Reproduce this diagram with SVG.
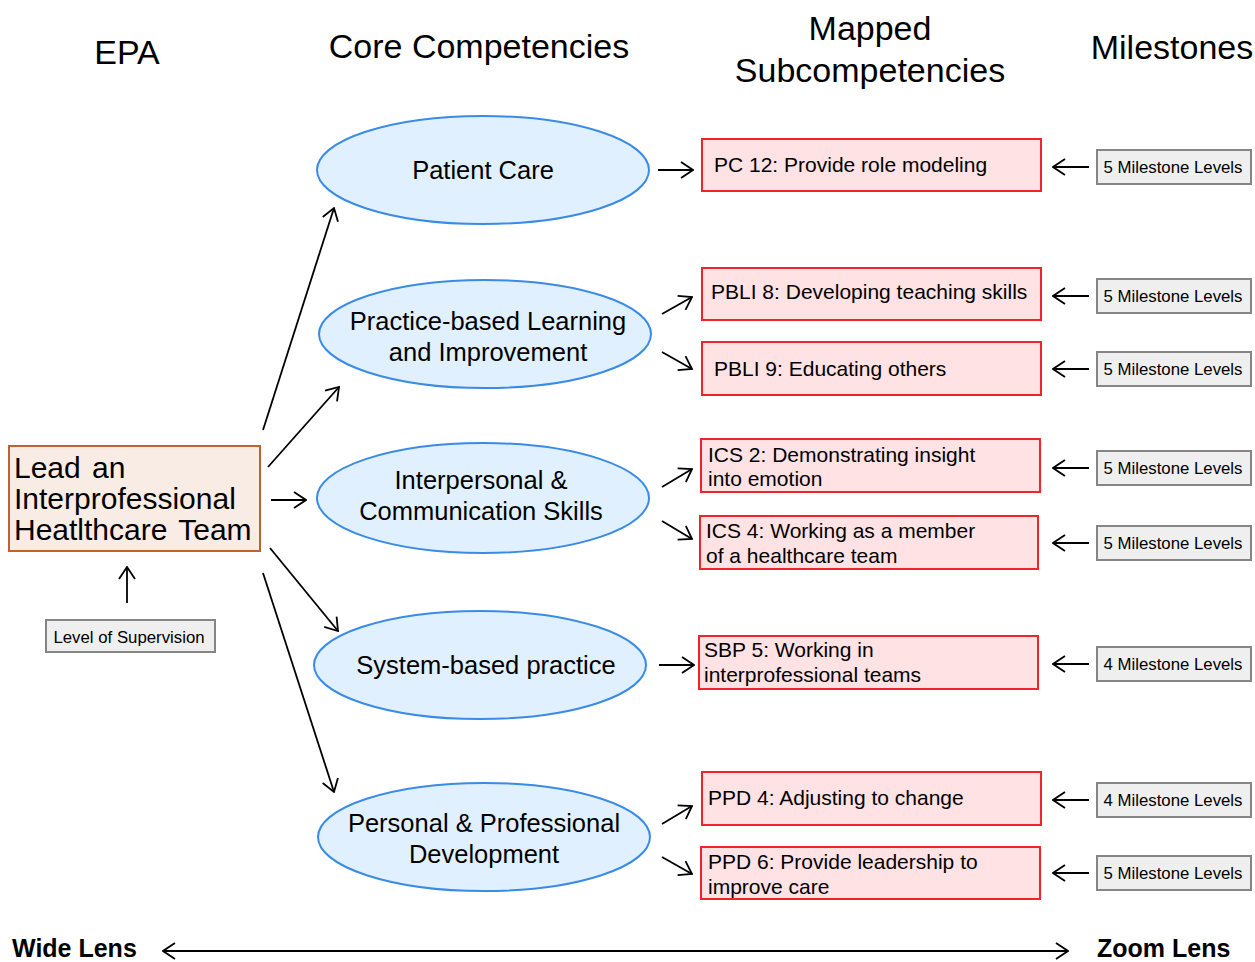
<svg xmlns="http://www.w3.org/2000/svg" width="1255" height="962" viewBox="0 0 1255 962">
<defs>
<marker id="ah" viewBox="0 0 14 18" refX="13" refY="9" markerWidth="14" markerHeight="18" markerUnits="userSpaceOnUse" orient="auto-start-reverse">
<path d="M1,1 L13,9 L1,17" fill="none" stroke="#000" stroke-width="1.8"/>
</marker>
</defs>
<style>
text{font-family:"Liberation Sans",Arial,sans-serif;fill:#000}
.hd{font-size:34px;text-anchor:middle}
.ell{fill:#e1f0fe;stroke:#3a8be6;stroke-width:2}
.et{font-size:25.5px;text-anchor:middle}
.red{fill:#fee2e4;stroke:#f0242a;stroke-width:2}
.rt{font-size:21px}
.gray{fill:#efefef;stroke:#858585;stroke-width:2}
.gt{font-size:16.8px;text-anchor:middle}
.con line{stroke:#000;stroke-width:1.8;marker-end:url(#ah)}
.lens{font-size:25px;font-weight:bold}
.epa{font-size:30px;word-spacing:3px}
</style>
<rect width="1255" height="962" fill="#fff"/>
<g id="headers">
<text class="hd" x="127" y="64">EPA</text>
<text class="hd" x="479" y="58">Core Competencies</text>
<text class="hd" x="870" y="40">Mapped</text>
<text class="hd" x="870" y="82">Subcompetencies</text>
<text class="hd" x="1172" y="59">Milestones</text>
</g>
<g id="epa">
<rect x="9" y="446" width="251" height="105" fill="#f8ece4" stroke="#c0622b" stroke-width="2"/>
<text class="epa" x="14" y="478">Lead an</text>
<text class="epa" x="14" y="509">Interprofessional</text>
<text class="epa" x="14" y="540">Heatlthcare Team</text>
</g>
<g id="supervision">
<rect class="gray" x="46" y="620" width="169" height="32"/>
<text class="gt" x="129" y="643">Level of Supervision</text>
</g>
<g id="pc"><ellipse class="ell" cx="483" cy="170" rx="166" ry="54"/><text class="et" x="483" y="179">Patient Care</text></g>
<g id="pbli"><ellipse class="ell" cx="485" cy="334" rx="166" ry="54"/><text class="et" x="488" y="330">Practice-based Learning</text><text class="et" x="488" y="361">and Improvement</text></g>
<g id="ics"><ellipse class="ell" cx="483" cy="498" rx="166" ry="55"/><text class="et" x="481" y="489">Interpersonal &amp;</text><text class="et" x="481" y="520">Communication Skills</text></g>
<g id="sbp"><ellipse class="ell" cx="480" cy="665" rx="166" ry="54"/><text class="et" x="486" y="674">System-based practice</text></g>
<g id="ppd"><ellipse class="ell" cx="484" cy="837" rx="166" ry="54"/><text class="et" x="484" y="832">Personal &amp; Professional</text><text class="et" x="484" y="863">Development</text></g>

<g id="pc12"><rect class="red" x="702" y="139" width="339" height="52"/><text class="rt" x="714" y="172">PC 12: Provide role modeling</text></g>
<g id="pbli8"><rect class="red" x="702" y="268" width="339" height="52"/><text class="rt" x="711" y="299">PBLI 8: Developing teaching skills</text></g>
<g id="pbli9"><rect class="red" x="702" y="342" width="339" height="53"/><text class="rt" x="714" y="376">PBLI 9: Educating others</text></g>
<g id="ics2"><rect class="red" x="701" y="439" width="339" height="53"/><text class="rt" x="708" y="462">ICS 2: Demonstrating insight</text><text class="rt" x="708" y="486">into emotion</text></g>
<g id="ics4"><rect class="red" x="700" y="516" width="338" height="53"/><text class="rt" x="706" y="538">ICS 4: Working as a member</text><text class="rt" x="706" y="563">of a healthcare team</text></g>
<g id="sbp5"><rect class="red" x="699" y="636" width="339" height="53"/><text class="rt" x="704" y="657">SBP 5: Working in</text><text class="rt" x="704" y="682">interprofessional  teams</text></g>
<g id="ppd4"><rect class="red" x="702" y="772" width="339" height="53"/><text class="rt" x="708" y="805">PPD 4: Adjusting to change</text></g>
<g id="ppd6"><rect class="red" x="701" y="847" width="339" height="52"/><text class="rt" x="708" y="869">PPD 6: Provide leadership to</text><text class="rt" x="708" y="894">improve care</text></g>

<g id="m1"><rect class="gray" x="1097" y="150" width="154" height="34"/><text class="gt" x="1173" y="173">5 Milestone Levels</text></g>
<g id="m2"><rect class="gray" x="1097" y="279" width="154" height="34"/><text class="gt" x="1173" y="302">5 Milestone Levels</text></g>
<g id="m3"><rect class="gray" x="1097" y="352" width="154" height="34"/><text class="gt" x="1173" y="375">5 Milestone Levels</text></g>
<g id="m4"><rect class="gray" x="1097" y="451" width="154" height="34"/><text class="gt" x="1173" y="474">5 Milestone Levels</text></g>
<g id="m5"><rect class="gray" x="1097" y="526" width="154" height="34"/><text class="gt" x="1173" y="549">5 Milestone Levels</text></g>
<g id="m6"><rect class="gray" x="1097" y="647" width="154" height="34"/><text class="gt" x="1173" y="670">4 Milestone Levels</text></g>
<g id="m7"><rect class="gray" x="1097" y="783" width="154" height="34"/><text class="gt" x="1173" y="806">4 Milestone Levels</text></g>
<g id="m8"><rect class="gray" x="1097" y="856" width="154" height="34"/><text class="gt" x="1173" y="879">5 Milestone Levels</text></g>

<g id="connectors" class="con">
<line x1="127" y1="603" x2="127" y2="567"/>
<line x1="263" y1="430" x2="334" y2="208"/>
<line x1="268" y1="467" x2="339" y2="387"/>
<line x1="271" y1="500" x2="306" y2="500"/>
<line x1="270" y1="548" x2="338" y2="631"/>
<line x1="263" y1="573" x2="334" y2="792"/>
<line x1="658" y1="170" x2="693" y2="170"/>
<line x1="662" y1="314" x2="692" y2="297"/>
<line x1="662" y1="352" x2="692" y2="369"/>
<line x1="662" y1="487" x2="692" y2="469"/>
<line x1="662" y1="521" x2="692" y2="539"/>
<line x1="659" y1="665" x2="694" y2="665"/>
<line x1="662" y1="824" x2="692" y2="806"/>
<line x1="662" y1="857" x2="692" y2="874"/>
<line x1="1089" y1="167" x2="1053" y2="167"/>
<line x1="1089" y1="296" x2="1053" y2="296"/>
<line x1="1089" y1="369" x2="1053" y2="369"/>
<line x1="1089" y1="468" x2="1053" y2="468"/>
<line x1="1089" y1="543" x2="1053" y2="543"/>
<line x1="1089" y1="664" x2="1053" y2="664"/>
<line x1="1089" y1="800" x2="1053" y2="800"/>
<line x1="1089" y1="873" x2="1053" y2="873"/>
<line x1="163" y1="951" x2="1068" y2="951" style="marker-start:url(#ah)"/>
</g>
<g id="lens">
<text class="lens" x="12" y="957">Wide Lens</text>
<text class="lens" x="1097" y="957">Zoom Lens</text>
</g>
</svg>
